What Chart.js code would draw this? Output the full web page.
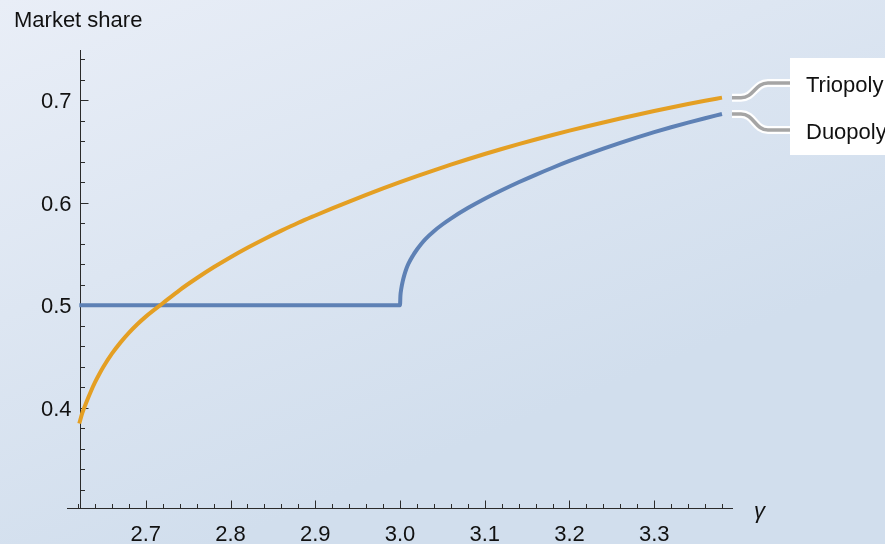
<!DOCTYPE html>
<html>
<head>
<meta charset="utf-8">
<script src="https://cdn.jsdelivr.net/npm/chart.js@4.4.1/dist/chart.umd.min.js"></script>
<style>
  html, body { margin: 0; padding: 0; background: #e1e8f2; }
  #wrap { width: 885px; height: 544px; }
  canvas { display: block; }
</style>
</head>
<body>
<div id="wrap"><canvas id="chart" width="885" height="544"></canvas></div>
<script>
// Market share as a function of gamma
const gammaTriopoly = [2.6215, 2.625, 2.63, 2.635, 2.64, 2.645, 2.65, 2.66, 2.67, 2.68, 2.69, 2.70, 2.72, 2.74, 2.76, 2.78, 2.80, 2.82, 2.84, 2.86, 2.88, 2.90, 2.92, 2.94, 2.96, 2.98, 3.00, 3.02, 3.04, 3.06, 3.08, 3.10, 3.12, 3.14, 3.16, 3.18, 3.20, 3.22, 3.24, 3.26, 3.28, 3.30, 3.32, 3.34, 3.36, 3.38];
const shareTriopoly = [0.3845, 0.3945, 0.4055, 0.4155, 0.4245, 0.4325, 0.4398, 0.4526, 0.4634, 0.4729, 0.4813, 0.4888, 0.5018, 0.5147, 0.5262, 0.5369, 0.5468, 0.5560, 0.5646, 0.5727, 0.5804, 0.5875, 0.5944, 0.6011, 0.6076, 0.6139, 0.6200, 0.6259, 0.6316, 0.6371, 0.6424, 0.6475, 0.6524, 0.6571, 0.6616, 0.6660, 0.6703, 0.6744, 0.6783, 0.6821, 0.6858, 0.6894, 0.6929, 0.6963, 0.6995, 0.7025];

const gammaDuopoly = [2.6215, 3.0, 3.0005, 3.0015, 3.003, 3.005, 3.0075, 3.01, 3.015, 3.02, 3.025, 3.03, 3.04, 3.05, 3.06, 3.08, 3.10, 3.12, 3.14, 3.16, 3.18, 3.20, 3.22, 3.24, 3.26, 3.28, 3.30, 3.32, 3.34, 3.36, 3.38];
const shareDuopoly = [0.5, 0.5, 0.5092, 0.516, 0.5225, 0.529, 0.5355, 0.5405, 0.548, 0.5543, 0.5597, 0.5645, 0.5722, 0.5787, 0.5845, 0.5947, 0.6038, 0.6121, 0.6199, 0.6272, 0.6341, 0.6407, 0.6469, 0.6528, 0.6584, 0.6637, 0.6688, 0.6736, 0.6781, 0.6824, 0.6865];

const seriesNames = ['Triopoly', 'Duopoly'];
const seriesColors = ['#e49f23', '#5e81b5'];

const xMajorTicks = [2.7, 2.8, 2.9, 3.0, 3.1, 3.2, 3.3];
const xTickLabels = ['2.7', '2.8', '2.9', '3.0', '3.1', '3.2', '3.3'];
const yMajorTicks = [0.4, 0.5, 0.6, 0.7];
const yTickLabels = ['0.4', '0.5', '0.6', '0.7'];

const yAxisTitle = 'Market share';
const xAxisTitle = 'γ';

const FONT = '"Liberation Sans", Arial, sans-serif';
const Y_AXIS_AT = 2.6228;   // x value where the vertical axis sits

function toPoints(xs, ys) { return xs.map((x, i) => ({ x: x, y: ys[i] })); }

// minor ticks every 0.02
function minorTicks(from, to, majors) {
  const out = [];
  for (let k = Math.round(from * 50); k <= Math.round(to * 50); k++) {
    const v = k / 50;
    if (!majors.some(m => Math.abs(m - v) < 1e-6)) out.push(v);
  }
  return out;
}
const xMinorTicks = minorTicks(2.62, 3.38, xMajorTicks);
const yMinorTicks = minorTicks(0.32, 0.74, yMajorTicks);

const backgroundPlugin = {
  id: 'panelBackground',
  beforeDraw(chart) {
    const { ctx, width, height } = chart;
    const g = ctx.createLinearGradient(0, 0, width * 0.25, height);
    g.addColorStop(0, '#e9eef7');
    g.addColorStop(1, '#d1deed');
    ctx.save();
    ctx.fillStyle = g;
    ctx.fillRect(0, 0, width, height);
    ctx.restore();
  }
};

const axesPlugin = {
  id: 'frameAxes',
  beforeDatasetsDraw(chart) {
    const { ctx } = chart;
    const xs = chart.scales.x, ys = chart.scales.y;
    const yBase = Math.round(ys.getPixelForValue(ys.min)) + 0.5;
    const xAxisPx = Math.round(xs.getPixelForValue(Y_AXIS_AT)) + 0.5;
    ctx.save();
    ctx.strokeStyle = '#2b2b2b';
    ctx.lineWidth = 1;
    ctx.beginPath();
    ctx.moveTo(xs.left, yBase); ctx.lineTo(xs.right, yBase);
    ctx.moveTo(xAxisPx, ys.top); ctx.lineTo(xAxisPx, yBase);
    // horizontal axis ticks (pointing up)
    xMajorTicks.forEach(v => {
      const p = Math.round(xs.getPixelForValue(v)) + 0.5;
      ctx.moveTo(p, yBase); ctx.lineTo(p, yBase - 8);
    });
    xMinorTicks.forEach(v => {
      const p = Math.round(xs.getPixelForValue(v)) + 0.5;
      ctx.moveTo(p, yBase); ctx.lineTo(p, yBase - 4.5);
    });
    // vertical axis ticks (pointing right)
    yMajorTicks.forEach(v => {
      const p = Math.round(ys.getPixelForValue(v)) + 0.5;
      ctx.moveTo(xAxisPx, p); ctx.lineTo(xAxisPx + 8, p);
    });
    yMinorTicks.forEach(v => {
      const p = Math.round(ys.getPixelForValue(v)) + 0.5;
      ctx.moveTo(xAxisPx, p); ctx.lineTo(xAxisPx + 4.5, p);
    });
    ctx.stroke();

    ctx.fillStyle = '#111';
    ctx.font = '22px ' + FONT;
    ctx.textBaseline = 'alphabetic';
    ctx.textAlign = 'center';
    xMajorTicks.forEach((v, i) => {
      ctx.fillText(xTickLabels[i], xs.getPixelForValue(v), yBase + 32);
    });
    ctx.textAlign = 'right';
    yMajorTicks.forEach((v, i) => {
      ctx.fillText(yTickLabels[i], xAxisPx - 9, ys.getPixelForValue(v) + 8);
    });
    ctx.textAlign = 'left';
    ctx.fillText(yAxisTitle, 14, 27);
    ctx.font = 'italic 22px ' + FONT;
    ctx.fillText(xAxisTitle, xs.right + 21, yBase + 9);
    ctx.restore();
  }
};

const labelPlugin = {
  id: 'curveLabels',
  afterDatasetsDraw(chart) {
    const { ctx } = chart;
    const boxLeft = 790;
    const labelY = [83, 130];
    ctx.save();
    ctx.fillStyle = '#ffffff';
    ctx.fillRect(boxLeft, 58, chart.width - boxLeft, 97);
    chart.data.datasets.forEach((ds, i) => {
      const meta = chart.getDatasetMeta(i);
      const last = meta.data[meta.data.length - 1];
      const sx = last.x + 10, sy = last.y, ly = labelY[i];
      const path = () => {
        ctx.beginPath();
        ctx.moveTo(sx, sy);
        ctx.lineTo(sx + 9, sy);
        ctx.bezierCurveTo(sx + 22, sy, sx + 23, ly, sx + 36, ly);
        ctx.lineTo(boxLeft, ly);
      };
      ctx.lineCap = 'butt';
      path(); ctx.strokeStyle = '#ffffff'; ctx.lineWidth = 8; ctx.stroke();
      path(); ctx.strokeStyle = '#a5a5a5'; ctx.lineWidth = 3.5; ctx.stroke();
      ctx.fillStyle = '#111';
      ctx.font = '22px ' + FONT;
      ctx.textAlign = 'left';
      ctx.textBaseline = 'alphabetic';
      ctx.fillText(seriesNames[i], boxLeft + 16, ly + 9);
    });
    ctx.restore();
  }
};

new Chart(document.getElementById('chart'), {
  type: 'scatter',
  data: {
    datasets: [
      {
        label: seriesNames[0],
        data: toPoints(gammaTriopoly, shareTriopoly),
        borderColor: seriesColors[0],
        backgroundColor: seriesColors[0],
        borderWidth: 4,
        showLine: true,
        pointRadius: 0,
        cubicInterpolationMode: 'monotone',
        borderCapStyle: 'butt',
        borderJoinStyle: 'round'
      },
      {
        label: seriesNames[1],
        data: toPoints(gammaDuopoly, shareDuopoly),
        borderColor: seriesColors[1],
        backgroundColor: seriesColors[1],
        borderWidth: 4,
        showLine: true,
        pointRadius: 0,
        cubicInterpolationMode: 'monotone',
        borderCapStyle: 'butt',
        borderJoinStyle: 'round'
      }
    ]
  },
  options: {
    responsive: false,
    animation: false,
    devicePixelRatio: 1,
    layout: { padding: { left: 67, right: 152, top: 50, bottom: 36 } },
    scales: {
      x: { type: 'linear', min: 2.607, max: 3.393, display: false },
      y: { type: 'linear', min: 0.302, max: 0.749, display: false }
    },
    plugins: {
      legend: { display: false },
      tooltip: { enabled: false }
    }
  },
  plugins: [backgroundPlugin, axesPlugin, labelPlugin]
});
</script>
</body>
</html>
